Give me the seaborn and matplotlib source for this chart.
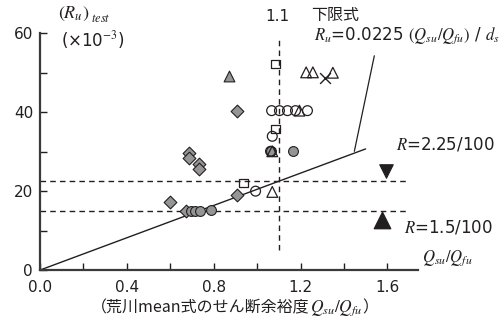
import numpy as np
import matplotlib
matplotlib.use("Agg")
import matplotlib.pyplot as plt
import seaborn as sns

# data (x = Qsu/Qfu, y = Ru x 10^-3)
gray_diamond_x = [0.598, 0.671, 0.687, 0.687, 0.733, 0.733, 0.907, 0.907]
gray_diamond_y = [17.3, 14.9, 29.6, 28.4, 26.8, 25.7, 18.9, 40.4]

gray_circle_x = [0.697, 0.715, 0.736, 0.789, 1.065, 1.165]
gray_circle_y = [15.0, 15.0, 15.0, 15.1, 30.1, 30.1]

gray_triangle_x = [0.869]
gray_triangle_y = [49.2]

open_circle_x = [0.993, 1.062, 1.067, 1.070, 1.103, 1.140, 1.177, 1.232]
open_circle_y = [20.0, 30.1, 40.4, 33.9, 40.4, 40.4, 40.4, 40.4]

open_square_x = [0.938, 1.084, 1.084]
open_square_y = [22.1, 35.8, 52.2]

open_triangle_x = [1.070, 1.070, 1.195, 1.226, 1.257, 1.349]
open_triangle_y = [19.8, 30.1, 40.4, 50.1, 50.1, 50.0]

cross_x = [1.313]
cross_y = [48.7]

# legend symbols for R=2.25/100 and R=1.5/100
r225_x, r225_y = [1.595], [25.0]
r15_x, r15_y = [1.577], [12.8]

# lower limit line Ru = 0.0225 (Qsu/Qfu) / ds
limit_x = [0.0, 1.5]
limit_y = [0.0, 30.7]

h_levels = [22.5, 15.0]
v_level = 1.1

sns.set_style("ticks")
plt.rcParams['font.family'] = ['DejaVu Sans', 'Noto Sans CJK JP']
plt.rcParams['mathtext.fontset'] = 'stix'

fig = plt.figure(figsize=(5.03, 3.2), dpi=100)
ax = fig.add_axes([0.0795, 0.156, 0.751, 0.74])

gray = '#959595'
dark = '#231f20'

sns.lineplot(x=limit_x, y=limit_y, color=dark, linewidth=1.0, ax=ax)
ax.hlines(h_levels, 0, 1.69, colors=dark, linestyles=(0, (4, 3)), linewidth=1.0)
ax.vlines(v_level, 5, 59, colors=dark, linestyles=(0, (4, 3)), linewidth=1.0)

kw = dict(ax=ax, zorder=3, legend=False)
sns.scatterplot(x=gray_diamond_x, y=gray_diamond_y, marker='D', s=42,
                color=gray, edgecolor=dark, linewidth=0.8, **kw)
sns.scatterplot(x=gray_circle_x, y=gray_circle_y, marker='o', s=50,
                color=gray, edgecolor=dark, linewidth=0.8, **kw)
sns.scatterplot(x=gray_triangle_x, y=gray_triangle_y, marker='^', s=60,
                color=gray, edgecolor=dark, linewidth=0.8, **kw)
sns.scatterplot(x=open_circle_x, y=open_circle_y, marker='o', s=50,
                facecolor='none', edgecolor=dark, linewidth=0.9, **kw)
sns.scatterplot(x=open_square_x, y=open_square_y, marker='s', s=38,
                facecolor='none', edgecolor=dark, linewidth=0.9, **kw)
sns.scatterplot(x=open_triangle_x, y=open_triangle_y, marker='^', s=60,
                facecolor='none', edgecolor=dark, linewidth=0.9, **kw)
sns.scatterplot(x=cross_x, y=cross_y, marker='x', s=60,
                color=dark, linewidth=1.0, **kw)
sns.scatterplot(x=r225_x, y=r225_y, marker='v', s=95,
                color=dark, edgecolor=dark, **kw)
sns.scatterplot(x=r15_x, y=r15_y, marker='^', s=140,
                color=dark, edgecolor=dark, **kw)

# leader line from the limit line to its label
ax.plot([1.448, 1.54], [30.1, 54.3], color=dark, linewidth=0.9, clip_on=False)

ax.set_xlim(0, 1.74)
ax.set_ylim(0, 60)
ax.set_xticks([0.0, 0.4, 0.8, 1.2, 1.6])
ax.set_xticks([0.2, 0.6, 1.0, 1.4], minor=True)
ax.set_yticks([0, 20, 40, 60])
ax.set_yticks([10, 30, 50], minor=True)
ax.set_xticklabels(['0.0', '0.4', '0.8', '1.2', '1.6'])
ax.tick_params(axis='both', which='both', direction='in', length=5,
               width=1.0, color=dark, labelsize=11, labelcolor=dark)
ax.tick_params(axis='x', pad=7)
ax.tick_params(axis='y', pad=5)
sns.despine(ax=ax)
for s in ['left', 'bottom']:
    ax.spines[s].set_linewidth(1.6)
    ax.spines[s].set_color('#3a3a3a')

tk = dict(color=dark, clip_on=False, va='center', ha='left')
ax.text(0.085, 64.8, r'$(R_u)$', fontsize=13, **tk)
ax.text(0.235, 63.8, r'$\mathit{test}$', fontsize=9, **tk)
ax.text(0.098, 58.2, r'(×10$^{-3}$)', fontsize=12, **tk)
ax.text(1.094, 64.2, '1.1', fontsize=11, color=dark, ha='center', va='center', clip_on=False)
ax.text(1.25, 64.6, '下限式', fontsize=11.5, **tk)
ax.text(1.264, 59.5, r'$R_u$=0.0225 $(Q_{su}/Q_{fu})$ / $d_s$', fontsize=12, **tk)
ax.text(1.641, 31.9, r'$R$=2.25/100', fontsize=12, **tk)
ax.text(1.678, 10.7, r'$R$=1.5/100', fontsize=12, **tk)
ax.text(1.761, 3.1, r'$Q_{su}/Q_{fu}$', fontsize=12, **tk)

# x axis caption: Japanese part and math part chained together
t1 = fig.text(91 / 503, 1 - 308 / 320, '（荒川mean式のせん断余裕度',
              fontsize=11.5, color=dark, va='center', ha='left',
              family=['Noto Sans CJK JP', 'DejaVu Sans'])
t2 = ax.annotate(r'$Q_{su}/Q_{fu}$', xy=(1, 0.5), xycoords=t1, fontsize=12.5,
                 color=dark, va='center', ha='left', annotation_clip=False)
ax.annotate('）', xy=(1, 0.5), xycoords=t2, fontsize=11.5, color=dark,
            va='center', ha='left', annotation_clip=False,
            family=['Noto Sans CJK JP', 'DejaVu Sans'])
ax.set_xlabel('')
ax.set_ylabel('')

fig.savefig('out.png', dpi=100)
